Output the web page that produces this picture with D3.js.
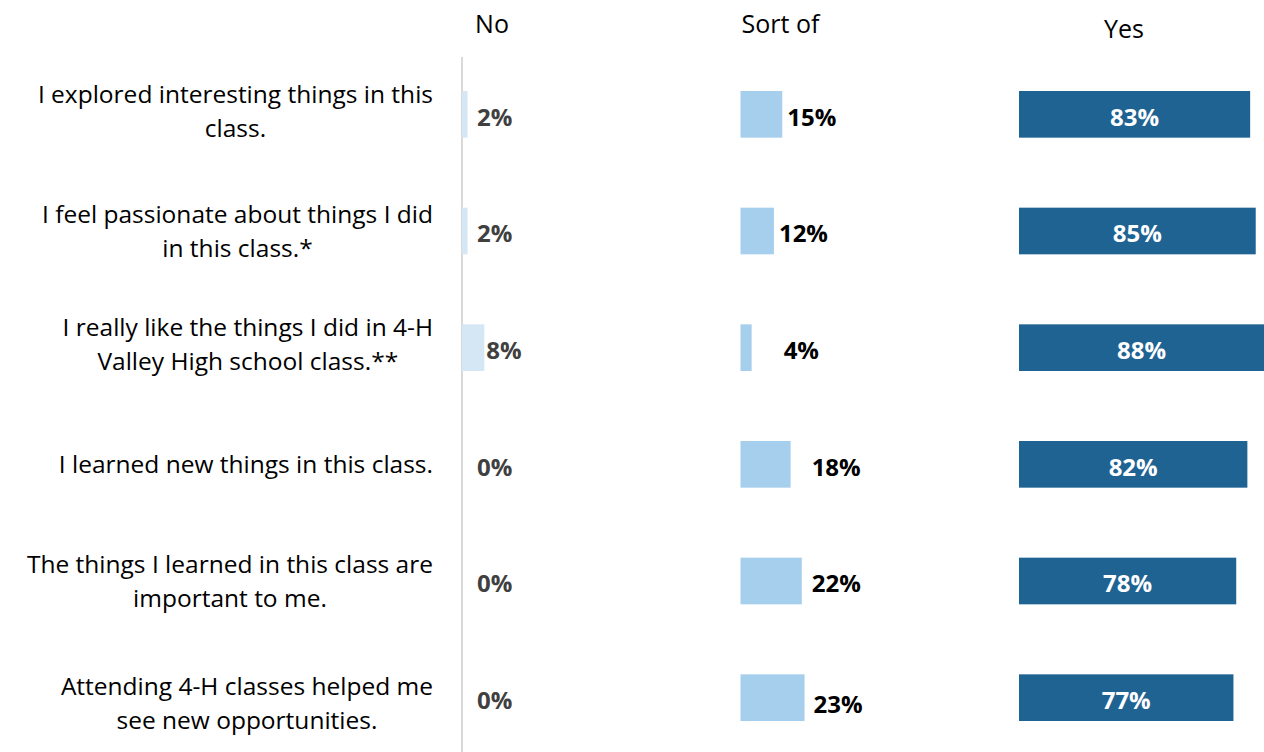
<!DOCTYPE html>
<meta charset='utf-8'>
<style>
	body {
		margin: 0;
		background: #fff;
	}

	text {
		font-family: 'Open Sans', 'Noto Sans', sans-serif;
	}

	.cat {
		font-size: 24.5px;
		fill: #000;
		text-anchor: middle;
	}

	.head {
		font-size: 25px;
		fill: #000;
		text-anchor: middle;
	}

	.val {
		font-size: 24px;
		font-weight: bold;
	}
</style>
<body>
<script src='https://cdn.jsdelivr.net/npm/d3@7/dist/d3.min.js'></script>

<script type='text/javascript'>
	var categories = [
		['I explored interesting things in this', 'class.'],
		['I feel passionate about things I did', 'in this class.*'],
		['I really like the things I did in 4-H', 'Valley High school class.**'],
		['I learned new things in this class.'],
		['The things I learned in this class are', 'important to me.'],
		['Attending 4-H classes helped me', 'see new opportunities.']
	];
	var seriesNames = ['No', 'Sort of', 'Yes'];
	var noValues = [2, 2, 8, 0, 0, 0];
	var sortOfValues = [15, 12, 4, 18, 22, 23];
	var yesValues = [83, 85, 88, 82, 78, 77];

	// layout tweaks, not data
	var headOffset = [30, 40, 105];
	var sortLabelNudge = [0, 0, 27, 16, 5, 4];
	var lineGap = [34, 34, 34, 0, 34, 34];
	var catShift = [-3, 0, -3, 0, 0, 6];

	var svgW = 1264, svgH = 752;
	var colors = ['#d5e6f5', '#a6ceed', '#1f6393'];
	var labelColors = ['#404040', '#000000', '#ffffff'];

	var svg = d3.select('body').append('svg')
		.attr('width', svgW).attr('height', svgH);

	var panelW = 278.5, left = 462, catRight = 433;
	var x = d3.scaleLinear().domain([0, 100]).range([0, panelW]);
	var panel = d3.scaleBand().domain(seriesNames).range([left, left + panelW * 3]);
	var y = d3.scaleBand().domain(d3.range(categories.length)).range([56, 756]).paddingInner(0.6).paddingOuter(0.3);

	// vertical axis line
	svg.append('line')
		.attr('x1', left).attr('x2', left).attr('y1', 57).attr('y2', svgH)
		.attr('stroke', '#d9d9d9').attr('stroke-width', 2);

	// headers
	svg.selectAll('.head').data(seriesNames).enter().append('text').attr('class', 'head')
		.attr('x', function (d, i) { return panel(d) + headOffset[i]; })
		.attr('y', function (d, i) { return i === 2 ? 38 : 33; })
		.text(function (d) { return d; });

	// category labels, centred block with right edge at catRight
	var cats = svg.selectAll('.cat').data(categories).enter().append('text').attr('class', 'cat');
	cats.each(function (lines, i) {
		var t = d3.select(this);
		var n = lines.length;
		var cy = y(i) + y.bandwidth() / 2 + catShift[i];
		var spans = lines.map(function (line, j) {
			return t.append('tspan')
				.attr('y', cy + (j - (n - 1) / 2) * lineGap[i])
				.attr('dy', '0.35em')
				.text(line);
		});
		var w = d3.max(spans, function (s) { return s.node().getComputedTextLength(); });
		spans.forEach(function (s) { s.attr('x', catRight - w / 2); });
	});

	var series = [noValues, sortOfValues, yesValues];

	series.forEach(function (vals, s) {
		var x0 = panel(seriesNames[s]);
		var g = svg.append('g');
		g.selectAll('rect').data(vals).enter().append('rect')
			.attr('x', x0)
			.attr('y', function (d, i) { return y(i); })
			.attr('width', function (d) { return x(d); })
			.attr('height', y.bandwidth())
			.attr('fill', colors[s]);

		g.selectAll('text').data(vals).enter().append('text').attr('class', 'val')
			.attr('fill', labelColors[s])
			.attr('text-anchor', s === 2 ? 'middle' : 'start')
			.attr('x', function (d, i) {
				if (s === 2) return x0 + x(d) / 2;
				if (s === 0) return Math.max(x0 + x(d) + 2, x0 + 15);
				return x0 + x(d) + 5 + sortLabelNudge[i];
			})
			.attr('y', function (d, i) { return y(i) + y.bandwidth() / 2 + (s === 1 && i === 5 ? 7 : 3); })
			.attr('dy', '0.35em')
			.text(function (d) { return d + '%'; });
	});
</script>
